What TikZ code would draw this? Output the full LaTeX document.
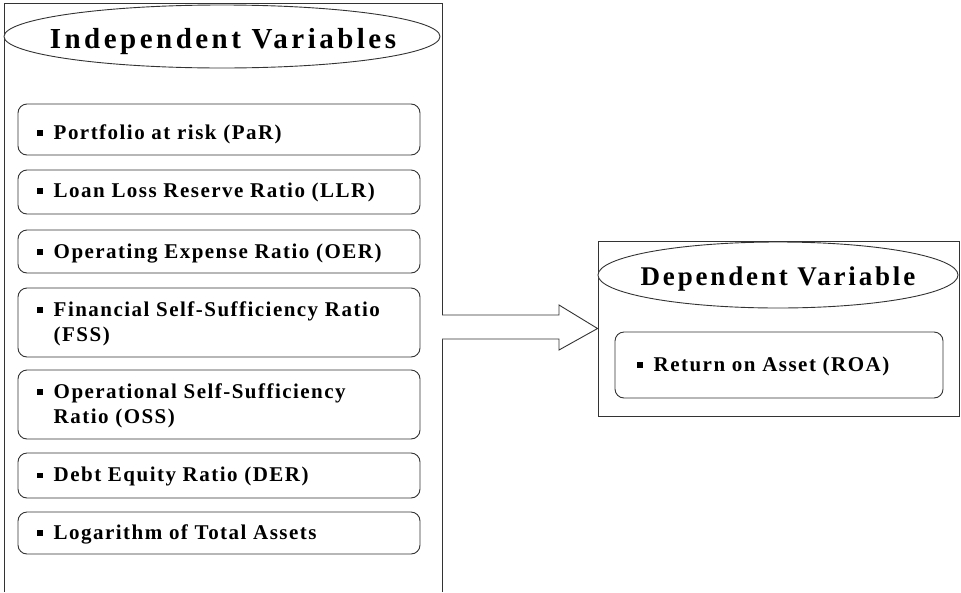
\documentclass[tikz,border=0pt]{standalone}
\usepackage{fontspec}
\setmainfont{Liberation Serif}
\usetikzlibrary{shapes.geometric}
\newcommand\bulsq{\rule[0.15em]{5.5pt}{5.5pt}}
\newcommand\bitem[1]{\begin{tabular}{@{}l@{\hspace{11pt}}l@{}}\bulsq & #1\end{tabular}}
\tikzset{
  ln/.style={draw=black!80, line width=0.9pt},
  itembox/.style={ln, rounded corners=9pt, minimum width=402pt, inner sep=0pt},
  itemtext/.style={anchor=west, inner sep=0pt, font=\fontsize{21}{25}\selectfont\bfseries\addfontfeature{LetterSpace=7}},
  titleell/.style={ln, ellipse, inner sep=0pt, fill=white},
  titletext/.style={inner sep=0pt},
}
\begin{document}
\begin{tikzpicture}[x=1pt,y=-1pt]
\useasboundingbox (0,0) rectangle (961,592);
% left outer frame (open at the bottom of the picture)
\coordinate (lbl) at (4,592);
\coordinate (lbr) at (442,592);
\draw[ln] (lbl) -- (4,3) -- (442,3) -- (lbr);
\node[titleell, minimum width=436pt, minimum height=63pt] (indep) at (222,36.5) {};
\node[titletext, font=\fontsize{29}{30}\selectfont\bfseries\addfontfeature{LetterSpace=12}] (indept) at (223,42) {Independent Variables};

\node[itembox, minimum height=51pt] (b1) at (219,129.5) {};
\node[itemtext] (t1) at (37,134) {\bitem{Portfolio at risk (PaR)}};
\node[itembox, minimum height=44pt] (b2) at (219,192) {};
\node[itemtext] (t2) at (37,192) {\bitem{Loan Loss Reserve Ratio (LLR)}};
\node[itembox, minimum height=43pt] (b3) at (219,251.5) {};
\node[itemtext] (t3) at (37,253) {\bitem{Operating Expense Ratio (OER)}};
\node[itembox, minimum height=69pt] (b4) at (219,322.5) {};
\node[itemtext] (t4) at (37,323.5) {\bitem{Financial Self-Sufficiency Ratio\\ & (FSS)}};
\node[itembox, minimum height=69pt] (b5) at (219,404.5) {};
\node[itemtext] (t5) at (37,405.5) {\bitem{Operational Self-Sufficiency\\ & Ratio (OSS)}};
\node[itembox, minimum height=45pt] (b6) at (219,475.5) {};
\node[itemtext] (t6) at (37,476.5) {\bitem{Debt Equity Ratio (DER)}};
\node[itembox, minimum height=42pt] (b7) at (219,533) {};
\node[itemtext] (t7) at (37,534) {\bitem{Logarithm of Total Assets}};

% right box
\node[ln, minimum width=361pt, minimum height=175pt, inner sep=0pt] (dep) at (778.5,328.5) {};
\node[titleell, minimum width=360pt, minimum height=66pt] (depell) at (778,275) {};
\node[titletext, font=\fontsize{27}{30}\selectfont\bfseries\addfontfeature{LetterSpace=10.5}] (depellt) at (778,279) {Dependent Variable};
\node[itembox, minimum width=328pt, minimum height=66pt] (roa) at (779,365) {};
\node[itemtext] (troa) at (637,366) {\bitem{Return on Asset (ROA)}};

% block arrow
\coordinate (as) at (442,328);
\draw[ln, fill=white, line join=miter]
  ([yshift=13pt]as) -- (559,315) -- (559,305) -- (dep.west) -- (559,350) -- (559,339) -- ([yshift=-11pt]as);
\end{tikzpicture}
\end{document}
